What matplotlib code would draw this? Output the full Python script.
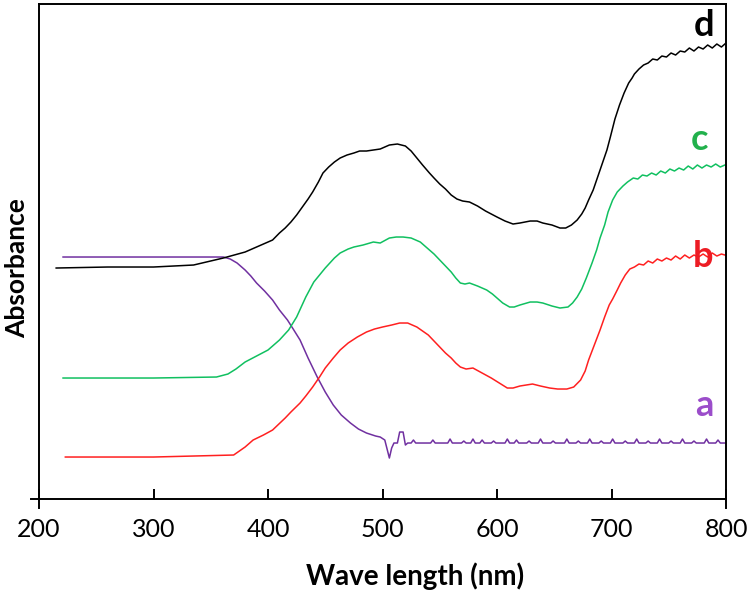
import matplotlib
matplotlib.use("Agg")
import matplotlib.pyplot as plt
from matplotlib.lines import Line2D

plt.rcParams['font.family'] = ['Lato', 'DejaVu Sans']

# ---- data (wavelength nm, absorbance a.u.) ----
d_nm = [215, 260, 300, 335, 361, 380, 404, 410, 415, 420, 425, 430, 435, 439, 444, 448, 453, 458, 463,
        469, 475, 480, 486, 492, 498, 506, 513, 520, 525, 530, 535, 541, 545, 550, 555, 560, 565, 570,
        576, 583, 590, 595, 600, 607, 614, 620, 629, 635, 640, 648, 655, 660, 665, 670, 674, 677, 680,
        684, 687, 690, 693, 696, 699, 703, 707, 711, 715, 718,
        720, 724, 728, 732, 736, 740, 744, 748, 752, 756, 760, 764, 768, 772, 776, 780, 784, 788,
        792, 796, 800]
d_abs = [2.31, 2.32, 2.32, 2.34, 2.41, 2.47, 2.59, 2.66, 2.71, 2.77, 2.84, 2.92, 3.00, 3.07, 3.17, 3.26,
         3.32, 3.37, 3.41, 3.44, 3.46, 3.48, 3.48, 3.49, 3.50, 3.54, 3.55, 3.53, 3.48, 3.41, 3.34, 3.26,
         3.21, 3.15, 3.10, 3.04, 3.00, 2.98, 2.97, 2.93, 2.88, 2.85, 2.82, 2.78, 2.75, 2.76, 2.78, 2.78,
         2.76, 2.74, 2.71, 2.71, 2.74, 2.79, 2.85, 2.91, 2.99, 3.09, 3.19, 3.29, 3.39, 3.49, 3.62, 3.80,
         3.94, 4.06, 4.16, 4.21,
         4.25, 4.30, 4.34, 4.36, 4.40, 4.39, 4.43, 4.42, 4.46, 4.44, 4.48, 4.47, 4.51, 4.48, 4.52, 4.50,
         4.54, 4.51, 4.55, 4.52, 4.56]

c_nm = [221, 300, 355, 365, 372, 380, 390, 400, 410, 418, 425, 433, 440, 445, 450, 454, 458, 463, 470,
        475, 483, 492, 498, 506, 512, 518, 525, 533, 537, 541, 545, 550, 555, 560, 564, 568, 572, 576,
        583, 591, 596, 600, 605, 611, 615, 620, 629, 635, 640, 648, 655, 662, 666, 670, 674, 678, 683,
        687, 690, 694, 697, 701, 705, 710, 714, 719, 723, 727, 731, 735, 739, 743, 747, 751, 755, 759,
        763, 767, 771, 775, 779, 783, 787, 791, 795, 799]
c_abs = [1.21, 1.21, 1.22, 1.25, 1.30, 1.37, 1.43, 1.49, 1.59, 1.69, 1.82, 2.02, 2.17, 2.24, 2.31, 2.36,
         2.41, 2.46, 2.50, 2.52, 2.54, 2.57, 2.56, 2.61, 2.62, 2.62, 2.61, 2.57, 2.53, 2.49, 2.45, 2.39,
         2.33, 2.27, 2.21, 2.16, 2.15, 2.16, 2.13, 2.09, 2.05, 2.01, 1.96, 1.92, 1.92, 1.94, 1.97, 1.97,
         1.96, 1.93, 1.91, 1.92, 1.96, 2.02, 2.10, 2.21, 2.36, 2.49, 2.61, 2.74, 2.87, 2.99, 3.07, 3.13,
         3.17, 3.21, 3.20, 3.24, 3.23, 3.26, 3.24, 3.28, 3.26, 3.30, 3.28, 3.31, 3.29, 3.33, 3.30, 3.34,
         3.31, 3.34, 3.32, 3.35, 3.32, 3.34]

b_nm = [223, 300, 370, 380, 387, 396, 404, 415, 420, 428, 433, 439, 445, 450, 457, 463, 470, 478, 486,
        493, 500, 508, 515, 522, 530, 535, 540, 545, 550, 555, 560, 564, 568, 573, 579, 587, 595, 602,
        609, 614, 620, 631, 638, 646, 653, 661, 667, 673, 677, 680, 685, 690, 694, 698, 701, 705, 708,
        712, 716, 720, 724, 728, 732, 736, 740, 744, 748, 752, 756, 760, 764, 768, 772, 776, 780, 784,
        788, 792, 796, 799]
b_abs = [0.42, 0.42, 0.44, 0.52, 0.59, 0.64, 0.69, 0.81, 0.87, 0.96, 1.03, 1.12, 1.22, 1.31, 1.41, 1.49,
         1.56, 1.62, 1.67, 1.70, 1.72, 1.74, 1.76, 1.76, 1.72, 1.68, 1.64, 1.58, 1.52, 1.46, 1.41, 1.36,
         1.32, 1.30, 1.31, 1.26, 1.21, 1.16, 1.11, 1.11, 1.13, 1.15, 1.13, 1.11, 1.10, 1.10, 1.12, 1.19,
         1.28, 1.39, 1.54, 1.69, 1.82, 1.94, 2.00, 2.09, 2.16, 2.24, 2.30, 2.32, 2.35, 2.34, 2.38, 2.36,
         2.40, 2.38, 2.41, 2.39, 2.43, 2.40, 2.44, 2.41, 2.44, 2.42, 2.45, 2.42, 2.46, 2.43, 2.45, 2.44]

a_nm = [221, 300, 361, 367, 373, 376, 380, 385, 390, 397, 404, 410, 417, 422, 428, 435, 443, 450, 457,
        464, 472, 479, 486, 494, 498, 502, 506, 508, 510, 513, 515, 518, 520, 522,
        525, 527, 529, 542, 544, 546, 557, 559, 561, 569, 571, 573, 577, 579, 581, 585, 587, 589, 595,
        597, 599, 607, 609, 611, 615, 617, 619, 626, 628, 630, 636, 638, 640, 647, 649, 651, 659, 661,
        663, 669, 671, 673, 679, 681, 683, 689, 691, 693, 699, 701, 703, 710, 712, 714, 720, 722, 724,
        730, 732, 734, 740, 742, 744, 750, 752, 754, 760, 762, 764, 770, 772, 774, 781, 783, 785, 791,
        793, 795, 800]
a_abs = [2.42, 2.42, 2.42, 2.40, 2.36, 2.33, 2.29, 2.23, 2.16, 2.08, 1.99, 1.89, 1.79, 1.70, 1.59, 1.41,
         1.22, 1.07, 0.94, 0.84, 0.76, 0.70, 0.66, 0.63, 0.62, 0.59, 0.41, 0.51, 0.56, 0.56, 0.67, 0.67,
         0.54, 0.56,
         0.56, 0.59, 0.56, 0.56, 0.59, 0.56, 0.56, 0.60, 0.56, 0.56, 0.58, 0.56, 0.56, 0.60, 0.56, 0.56,
         0.59, 0.56, 0.56, 0.58, 0.56, 0.56, 0.60, 0.56, 0.56, 0.59, 0.56, 0.56, 0.58, 0.56, 0.56, 0.60,
         0.56, 0.56, 0.58, 0.56, 0.56, 0.60, 0.56, 0.56, 0.58, 0.56, 0.56, 0.60, 0.56, 0.56, 0.58, 0.56,
         0.56, 0.60, 0.56, 0.56, 0.58, 0.56, 0.56, 0.60, 0.56, 0.56, 0.58, 0.56, 0.56, 0.60, 0.56, 0.56,
         0.58, 0.56, 0.56, 0.60, 0.56, 0.56, 0.58, 0.56, 0.56, 0.60, 0.56, 0.56, 0.59, 0.56, 0.56]

labels = ['a', 'b', 'c', 'd']
label_nm = [781, 780, 777, 781]
label_abs = [0.94, 2.43, 3.60, 4.74]
line_colors = ['#7030A0', '#FF2020', '#10C060', '#000000']
label_colors = ['#9B4DCA', '#ED1C24', '#22B14C', '#000000']

xticks = [200, 300, 400, 500, 600, 700, 800]

# ---- figure ----
fig = plt.figure(figsize=(7.5, 5.9), dpi=100)
ax = fig.add_axes([0.052, 0.1542, 0.916, 0.839])

series = [(a_nm, a_abs), (b_nm, b_abs), (c_nm, c_abs), (d_nm, d_abs)]
for (xs, ys), col in zip(series, line_colors):
    ax.plot(xs, ys, color=col, lw=1.1)

for lab, lx, ly, col in zip(labels, label_nm, label_abs, label_colors):
    ax.text(lx, ly, lab, color=col, fontsize=26, fontweight='bold', ha='center', va='center')

ax.set_xlim(200, 800)
ax.set_ylim(0, 4.95)
ax.set_xticks(xticks)
ax.set_yticks([])
ax.tick_params(axis='x', direction='in', length=7.5, width=1.4, pad=14, labelsize=18)
for sp in ax.spines.values():
    sp.set_linewidth(1.4)

# crossed axis extensions
tr = ax.transAxes
ax.add_line(Line2D([-0.011, 0], [0, 0], transform=tr, color='black', lw=1.4, clip_on=False))
ax.add_line(Line2D([0, 0], [-0.019, 0], transform=tr, color='black', lw=1.4, clip_on=False))
ax.add_line(Line2D([1, 1], [-0.019, 0], transform=tr, color='black', lw=1.4, clip_on=False))

ax.set_xlabel('Wave length (nm)', fontsize=20, fontweight='bold')
ax.xaxis.set_label_coords(0.547, -0.128)
ax.set_ylabel('Absorbance', fontsize=19, fontweight='bold')
ax.yaxis.set_label_coords(-0.015, 0.467)

fig.savefig('out.png', dpi=100)
